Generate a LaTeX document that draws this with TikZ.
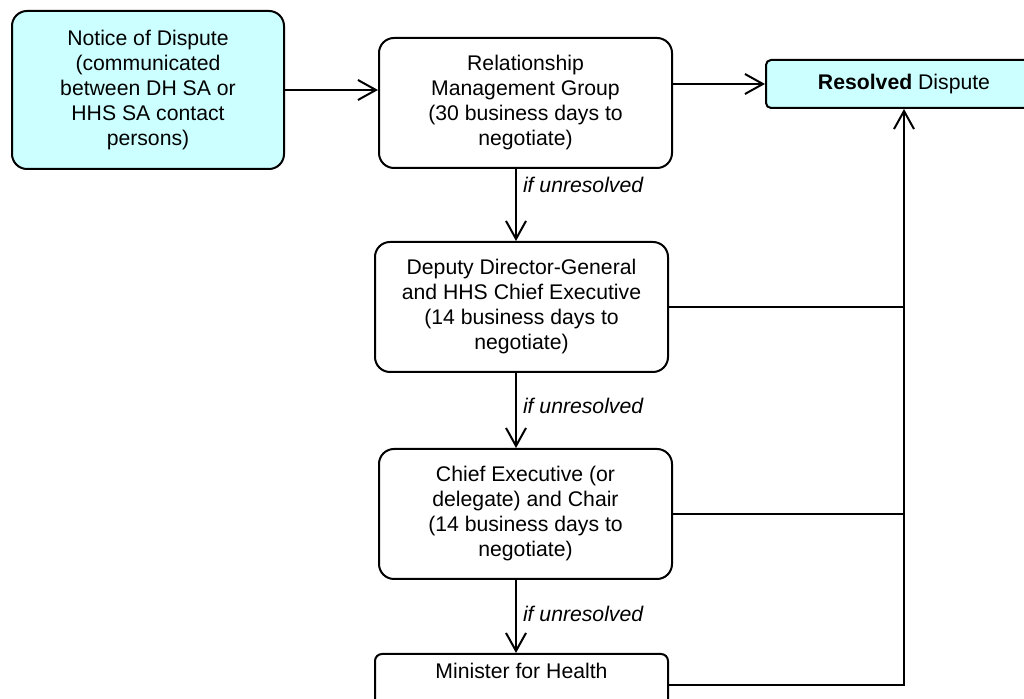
\documentclass[tikz,border=0pt]{standalone}
\usepackage{fontspec}
\setmainfont{Liberation Sans}
\usetikzlibrary{arrows.meta,positioning}

\definecolor{dispcyan}{HTML}{CCFFFF}
\newcommand{\diagfont}{\fontsize{10.6}{12.5}\selectfont}

\tikzset{
  stage/.style={draw, line width=1pt, rounded corners=7.5pt, align=center,
    font=\diagfont, minimum width=146.5pt, minimum height=65pt, inner sep=2pt},
  endbox/.style={stage, fill=dispcyan},
  flow/.style={-{Straight Barb[length=9pt,width=10pt]}, line width=1pt},
  cond/.style={right, font=\diagfont\itshape, inner sep=3pt}
}

\begin{document}
\begin{tikzpicture}[x=0.5pt, y=-0.5pt]
  \useasboundingbox (0,0) rectangle (1024,699);

  \node[endbox, minimum width=136pt, minimum height=79pt] (notice) at (148,90)
    {Notice of Dispute\\(communicated\\between DH SA or\\HHS SA contact\\persons)};
  \node[stage] (rmg) at (525.5,103)
    {Relationship\\Management Group\\(30 business days to\\negotiate)};
  \node[endbox, rounded corners=2.5pt, minimum width=138pt, minimum height=24pt] (resolved) at (904,84)
    {\textbf{Resolved} Dispute};
  \node[stage, below=36pt of rmg, xshift=-2pt] (ddg)
    {Deputy Director-General\\and HHS Chief Executive\\(14 business days to\\negotiate)};
  \node[stage, below=37.5pt of ddg, xshift=2pt] (ce)
    {Chief Executive (or\\delegate) and Chair\\(14 business days to\\negotiate)};
  \node[stage, below=36.5pt of ce, xshift=-2pt, rounded corners=3.5pt, minimum height=31pt, text depth=14pt] (minister)
    {Minister for Health};

  \coordinate (spine) at (516,0);

  \draw[flow] (notice.east) -- (rmg.west |- notice.east);
  \draw[flow] (rmg.east |- resolved.west) -- (resolved.west);
  \draw[flow] (rmg.south -| spine) -- node[cond, pos=0.22] {if unresolved} (ddg.north -| spine);
  \draw[flow] (ddg.south -| spine) -- node[cond, pos=0.44] {if unresolved} (ce.north -| spine);
  \draw[flow] (ce.south -| spine) -- node[cond, pos=0.47] {if unresolved} (minister.north -| spine);

  % resolved at any later stage
  \draw[line width=1pt] (ddg.east) -- (ddg.east -| resolved.south);
  \draw[line width=1pt] (ce.east) -- (ce.east -| resolved.south);
  \draw[flow] (minister.east) -| (resolved.south);
\end{tikzpicture}
\end{document}
